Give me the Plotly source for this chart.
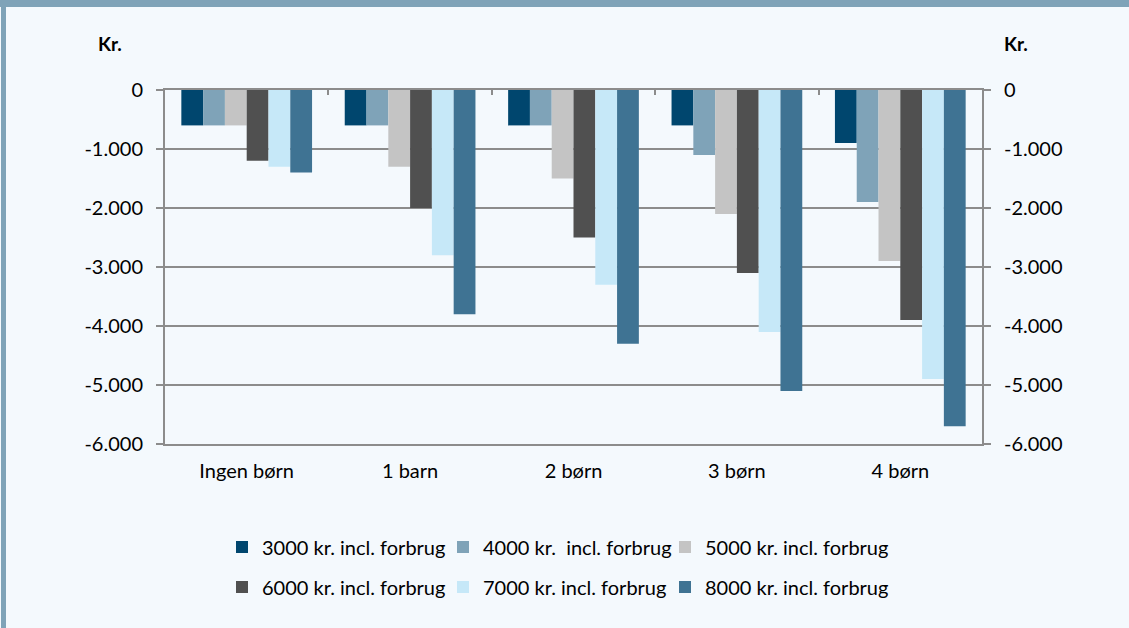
import plotly.graph_objects as go

categories = ["Ingen børn", "1 barn", "2 børn", "3 børn", "4 børn"]
series_names = [
    "3000 kr. incl. forbrug",
    "4000 kr.\u00a0 incl. forbrug",
    "5000 kr. incl. forbrug",
    "6000 kr. incl. forbrug",
    "7000 kr. incl. forbrug",
    "8000 kr. incl. forbrug",
]
s3000 = [-600, -600, -600, -600, -900]
s4000 = [-600, -600, -600, -1100, -1900]
s5000 = [-600, -1300, -1500, -2100, -2900]
s6000 = [-1200, -2000, -2500, -3100, -3900]
s7000 = [-1300, -2800, -3300, -4100, -4900]
s8000 = [-1400, -3800, -4300, -5100, -5700]
series_values = [s3000, s4000, s5000, s6000, s7000, s8000]
colors = ["#00466E", "#7FA3B8", "#C4C4C4", "#505050", "#C6E8F8", "#3F7393"]

y_tickvals = [0, -1000, -2000, -3000, -4000, -5000, -6000]
y_ticktext = ["0", "-1.000", "-2.000", "-3.000", "-4.000", "-5.000", "-6.000"]

W, H = 1129, 628
ML, MR, MT, MB = 165, 147, 90, 184
PW, PH = W - ML - MR, H - MT - MB
BG = "#F4F9FD"
BORDER = "#7FA3B8"
GRID = "#8C8C8C"
FONT = "Lato"

# legend entry positions (pixels): 3 columns x 2 rows
legend_cols_px = [222, 443, 665]
legend_rows_px = [547, 587]

def px_to_paper_x(px):
    return (px - ML) / PW

def px_to_paper_y(py):
    return (H - MB - py) / PH

legend_ids = ["legend"] + [f"legend{i}" for i in range(2, 7)]

fig = go.Figure()
for name, vals, col, lg in zip(series_names, series_values, colors, legend_ids):
    fig.add_trace(go.Bar(
        x=categories, y=vals, name=name, legend=lg,
        marker=dict(color=col, line=dict(width=0)),
    ))

# helper trace to show top category separators and the right axis
fig.add_trace(go.Scatter(
    x=categories, y=[None] * len(categories), xaxis="x2", yaxis="y2",
    showlegend=False, hoverinfo="skip", mode="markers",
))

axis_font = dict(family=FONT, size=20, color="#000000")
legend_font = dict(family=FONT, size=20, color="#000000")

legends = {}
for i, lg in enumerate(legend_ids):
    r, c = divmod(i, 3)
    legends[lg] = dict(
        orientation="h", x=px_to_paper_x(legend_cols_px[c]), xanchor="left",
        y=px_to_paper_y(legend_rows_px[r]), yanchor="middle",
        font=legend_font, bgcolor="rgba(0,0,0,0)",
        itemclick=False, itemdoubleclick=False,
    )

fig.update_layout(
    width=W, height=H,
    margin=dict(l=ML, r=MR, t=MT, b=MB),
    paper_bgcolor=BG, plot_bgcolor=BG,
    font=axis_font,
    barmode="group", bargap=0.2, bargroupgap=0,
    xaxis=dict(
        type="category", categoryarray=categories,
        showline=True, mirror=True, linecolor=GRID, linewidth=2,
        ticks="", showgrid=False, tickfont=axis_font, ticklabelstandoff=8,
    ),
    xaxis2=dict(
        type="category", categoryarray=categories, range=[-0.5, 4.5],
        overlaying="x", anchor="y", side="top",
        tickson="boundaries", ticks="inside", ticklen=5, tickwidth=2,
        tickcolor=GRID, showticklabels=False, showgrid=False, showline=False,
    ),
    yaxis=dict(
        range=[-6000, 0], tickvals=y_tickvals, ticktext=y_ticktext,
        ticks="outside", ticklen=7, tickwidth=2, tickcolor=GRID,
        showgrid=True, gridcolor=GRID, gridwidth=2,
        showline=True, linecolor=GRID, linewidth=2, zeroline=False,
        tickfont=axis_font, ticklabelstandoff=9,
    ),
    yaxis2=dict(
        range=[-6000, 0], tickvals=y_tickvals, ticktext=y_ticktext,
        overlaying="y", anchor="x", side="right",
        ticks="outside", ticklen=7, tickwidth=2, tickcolor=GRID,
        showgrid=False, showline=True, linecolor=GRID, linewidth=2,
        zeroline=False, tickfont=axis_font, ticklabelstandoff=9,
    ),
    showlegend=True,
    annotations=[
        dict(text="<b>Kr.</b>", x=px_to_paper_x(110), y=px_to_paper_y(44),
             xref="paper", yref="paper", xanchor="center", yanchor="middle",
             showarrow=False, font=dict(family=FONT, size=19, color="#000000")),
        dict(text="<b>Kr.</b>", x=px_to_paper_x(1016), y=px_to_paper_y(44),
             xref="paper", yref="paper", xanchor="center", yanchor="middle",
             showarrow=False, font=dict(family=FONT, size=19, color="#000000")),
    ],
    shapes=[
        dict(type="rect", xref="paper", yref="paper",
             x0=px_to_paper_x(0), x1=px_to_paper_x(W),
             y0=px_to_paper_y(0), y1=px_to_paper_y(7),
             fillcolor=BORDER, line=dict(width=0), layer="above"),
        dict(type="rect", xref="paper", yref="paper",
             x0=px_to_paper_x(1), x1=px_to_paper_x(6),
             y0=px_to_paper_y(0), y1=px_to_paper_y(H),
             fillcolor=BORDER, line=dict(width=0), layer="above"),
    ],
    **legends,
)

fig.write_html(
    "out.html",
    config={"displayModeBar": False},
    post_script="document.body.style.margin='0';document.body.style.overflow='hidden';",
)
